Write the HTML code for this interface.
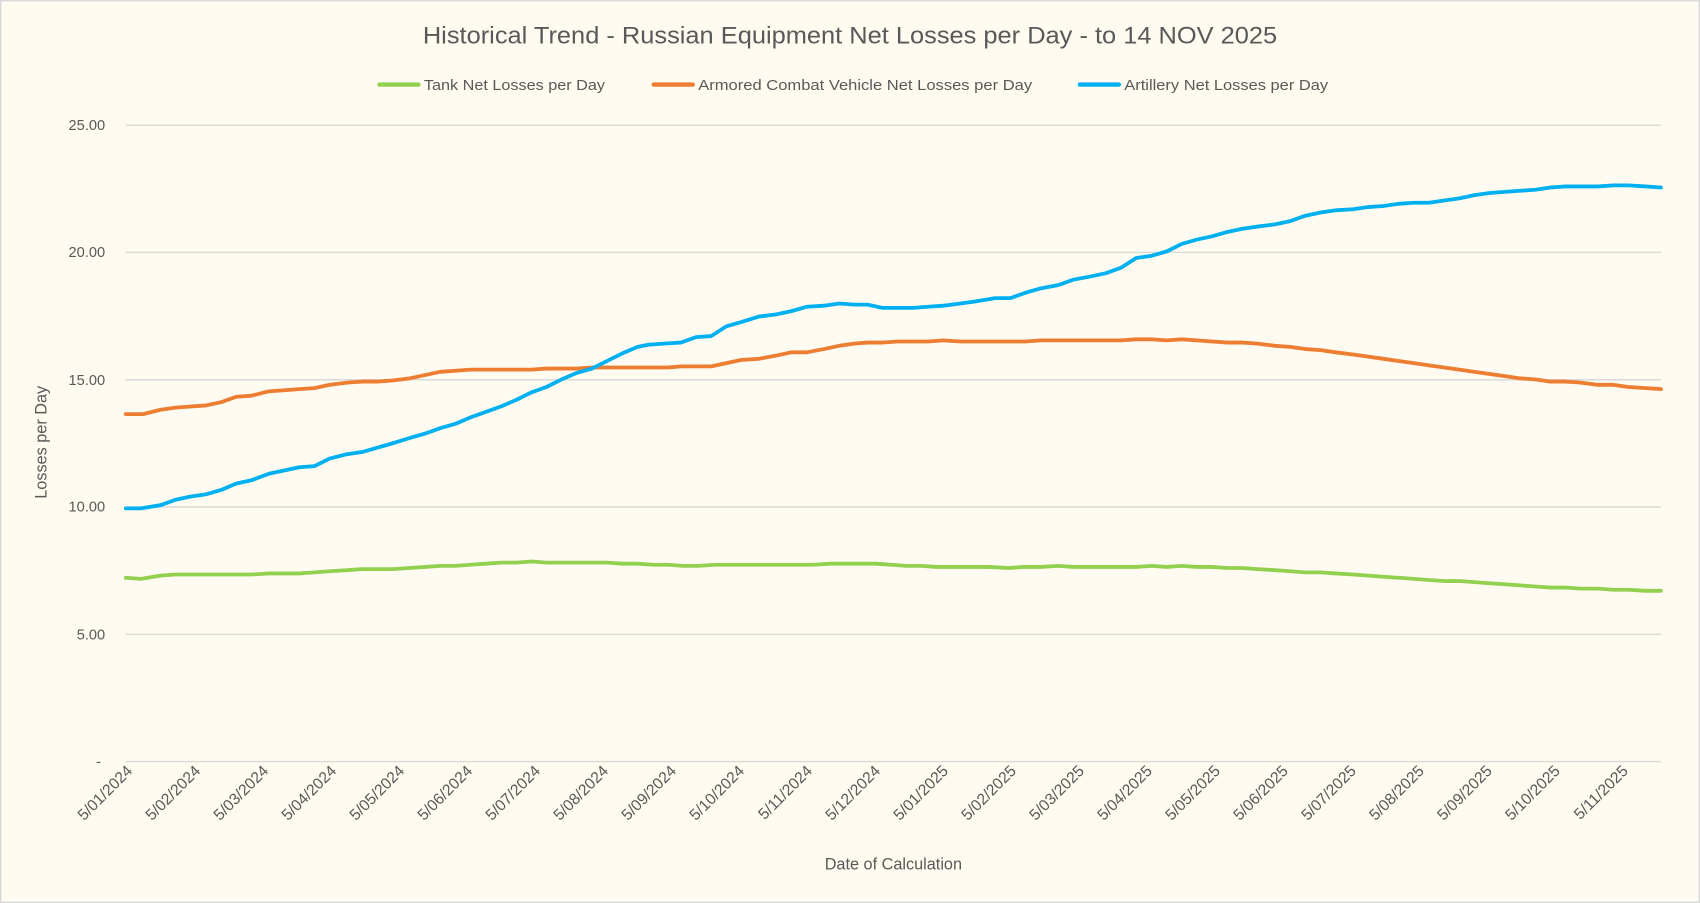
<!DOCTYPE html>
<html><head><meta charset="utf-8"><style>
html,body{margin:0;padding:0;background:#fffbf0;}
svg{display:block;}
text{font-family:"Liberation Sans",sans-serif;fill:#595959;}
</style></head><body>
<svg width="1700" height="903" viewBox="0 0 1568 833" preserveAspectRatio="none" xmlns="http://www.w3.org/2000/svg">
<rect x="0.5" y="0.5" width="1567" height="832" fill="#fffbf0" stroke="#d9d9d9" stroke-width="1.5"/>
<text x="784" y="40" text-anchor="middle" font-size="22" textLength="788" lengthAdjust="spacingAndGlyphs">Historical Trend - Russian Equipment Net Losses per Day - to 14 NOV 2025</text>
<g stroke-width="4" stroke-linecap="round">
<line x1="350" y1="78" x2="386" y2="78" stroke="#92d050"/>
<line x1="603" y1="78" x2="639" y2="78" stroke="#ed7d31"/>
<line x1="996" y1="78" x2="1032" y2="78" stroke="#00b0f0"/>
</g>
<g font-size="14">
<text x="391" y="83" textLength="167" lengthAdjust="spacingAndGlyphs">Tank Net Losses per Day</text>
<text x="644" y="83" textLength="308" lengthAdjust="spacingAndGlyphs">Armored Combat Vehicle Net Losses per Day</text>
<text x="1037" y="83" textLength="188" lengthAdjust="spacingAndGlyphs">Artillery Net Losses per Day</text>
</g>
<g stroke="#d9d9d9" stroke-width="1.3">
<line x1="116" y1="115.5" x2="1532" y2="115.5"/>
<line x1="116" y1="232.9" x2="1532" y2="232.9"/>
<line x1="116" y1="350.3" x2="1532" y2="350.3"/>
<line x1="116" y1="467.7" x2="1532" y2="467.7"/>
<line x1="116" y1="585.1" x2="1532" y2="585.1"/>
<line x1="116" y1="702.5" x2="1532" y2="702.5"/>
</g>
<g font-size="13.5" text-anchor="end">
<text x="97" y="120">25.00</text>
<text x="97" y="237">20.00</text>
<text x="97" y="355">15.00</text>
<text x="97" y="472">10.00</text>
<text x="97" y="590">5.00</text>
<text x="93" y="707">-</text>
</g>
<text transform="translate(43,408) rotate(-90)" text-anchor="middle" font-size="15">Losses per Day</text>
<text x="824" y="802" text-anchor="middle" font-size="15">Date of Calculation</text>
<g fill="none" stroke-width="3.5" stroke-linejoin="round" stroke-linecap="round">
<polyline stroke="#92d050" points="116,533 130,534 148,531 162,530 176,530 190,530 204,530 218,530 232,530 248,529 262,529 276,529 290,528 304,527 320,526 334,525 348,525 362,525 378,524 392,523 406,522 420,522 434,521 448,520 462,519 476,519 490,518 504,519 518,519 532,519 546,519 560,519 574,520 588,520 602,521 616,521 630,522 644,522 660,521 674,521 690,521 706,521 720,521 736,521 750,521 766,520 780,520 794,520 808,520 822,521 836,522 850,522 864,523 880,523 896,523 912,523 930,524 944,523 960,523 976,522 990,523 1006,523 1020,523 1034,523 1048,523 1062,522 1076,523 1090,522 1104,523 1118,523 1132,524 1146,524 1160,525 1176,526 1190,527 1204,528 1218,528 1232,529 1248,530 1262,531 1276,532 1290,533 1304,534 1318,535 1332,536 1346,536 1360,537 1374,538 1388,539 1402,540 1416,541 1430,542 1444,542 1458,543 1474,543 1488,544 1502,544 1518,545 1532,545"/>
<polyline stroke="#ed7d31" points="116,382 132,382 148,378 162,376 176,375 190,374 204,371 218,366 232,365 248,361 262,360 276,359 290,358 304,355 320,353 334,352 348,352 362,351 378,349 392,346 406,343 420,342 434,341 448,341 462,341 476,341 490,341 504,340 518,340 532,340 546,339 560,339 574,339 588,339 602,339 616,339 628,338 642,338 656,338 670,335 684,332 700,331 716,328 730,325 744,325 760,322 774,319 788,317 800,316 814,316 828,315 842,315 856,315 870,314 886,315 900,315 918,315 932,315 946,315 960,314 976,314 990,314 1006,314 1020,314 1034,314 1048,313 1062,313 1076,314 1090,313 1104,314 1118,315 1132,316 1146,316 1160,317 1176,319 1190,320 1204,322 1218,323 1232,325 1248,327 1262,329 1276,331 1290,333 1304,335 1318,337 1332,339 1346,341 1360,343 1374,345 1388,347 1402,349 1416,350 1430,352 1444,352 1458,353 1474,355 1488,355 1502,357 1518,358 1532,359"/>
<polyline stroke="#00b0f0" points="116,469 130,469 148,466 162,461 176,458 190,456 204,452 218,446 232,443 248,437 262,434 276,431 290,430 304,423 320,419 334,417 348,413 362,409 378,404 392,400 406,395 420,391 434,385 448,380 462,375 476,369 490,362 504,357 518,350 532,344 546,340 560,333 574,326 588,320 598,318 612,317 628,316 642,311 656,310 670,301 684,297 700,292 716,290 730,287 744,283 760,282 774,280 788,281 800,281 814,284 828,284 842,284 856,283 870,282 886,280 900,278 918,275 932,275 946,270 960,266 976,263 990,258 1006,255 1020,252 1034,247 1048,238 1062,236 1076,232 1090,225 1104,221 1118,218 1132,214 1146,211 1160,209 1176,207 1190,204 1204,199 1218,196 1232,194 1248,193 1262,191 1276,190 1290,188 1304,187 1318,187 1332,185 1346,183 1360,180 1374,178 1388,177 1402,176 1416,175 1430,173 1444,172 1458,172 1474,172 1488,171 1502,171 1518,172 1532,173"/>
</g>
<g font-size="14.5" text-anchor="end">
<text transform="translate(123,712) rotate(-45)">5/01/2024</text>
<text transform="translate(185.7,712) rotate(-45)">5/02/2024</text>
<text transform="translate(248.4,712) rotate(-45)">5/03/2024</text>
<text transform="translate(311.1,712) rotate(-45)">5/04/2024</text>
<text transform="translate(373.8,712) rotate(-45)">5/05/2024</text>
<text transform="translate(436.5,712) rotate(-45)">5/06/2024</text>
<text transform="translate(499.2,712) rotate(-45)">5/07/2024</text>
<text transform="translate(561.9,712) rotate(-45)">5/08/2024</text>
<text transform="translate(624.6,712) rotate(-45)">5/09/2024</text>
<text transform="translate(687.3,712) rotate(-45)">5/10/2024</text>
<text transform="translate(750,712) rotate(-45)">5/11/2024</text>
<text transform="translate(812.7,712) rotate(-45)">5/12/2024</text>
<text transform="translate(875.4,712) rotate(-45)">5/01/2025</text>
<text transform="translate(938.1,712) rotate(-45)">5/02/2025</text>
<text transform="translate(1000.8,712) rotate(-45)">5/03/2025</text>
<text transform="translate(1063.5,712) rotate(-45)">5/04/2025</text>
<text transform="translate(1126.2,712) rotate(-45)">5/05/2025</text>
<text transform="translate(1188.9,712) rotate(-45)">5/06/2025</text>
<text transform="translate(1251.6,712) rotate(-45)">5/07/2025</text>
<text transform="translate(1314.3,712) rotate(-45)">5/08/2025</text>
<text transform="translate(1377,712) rotate(-45)">5/09/2025</text>
<text transform="translate(1439.7,712) rotate(-45)">5/10/2025</text>
<text transform="translate(1502.4,712) rotate(-45)">5/11/2025</text>
</g>
</svg>
</body></html>
